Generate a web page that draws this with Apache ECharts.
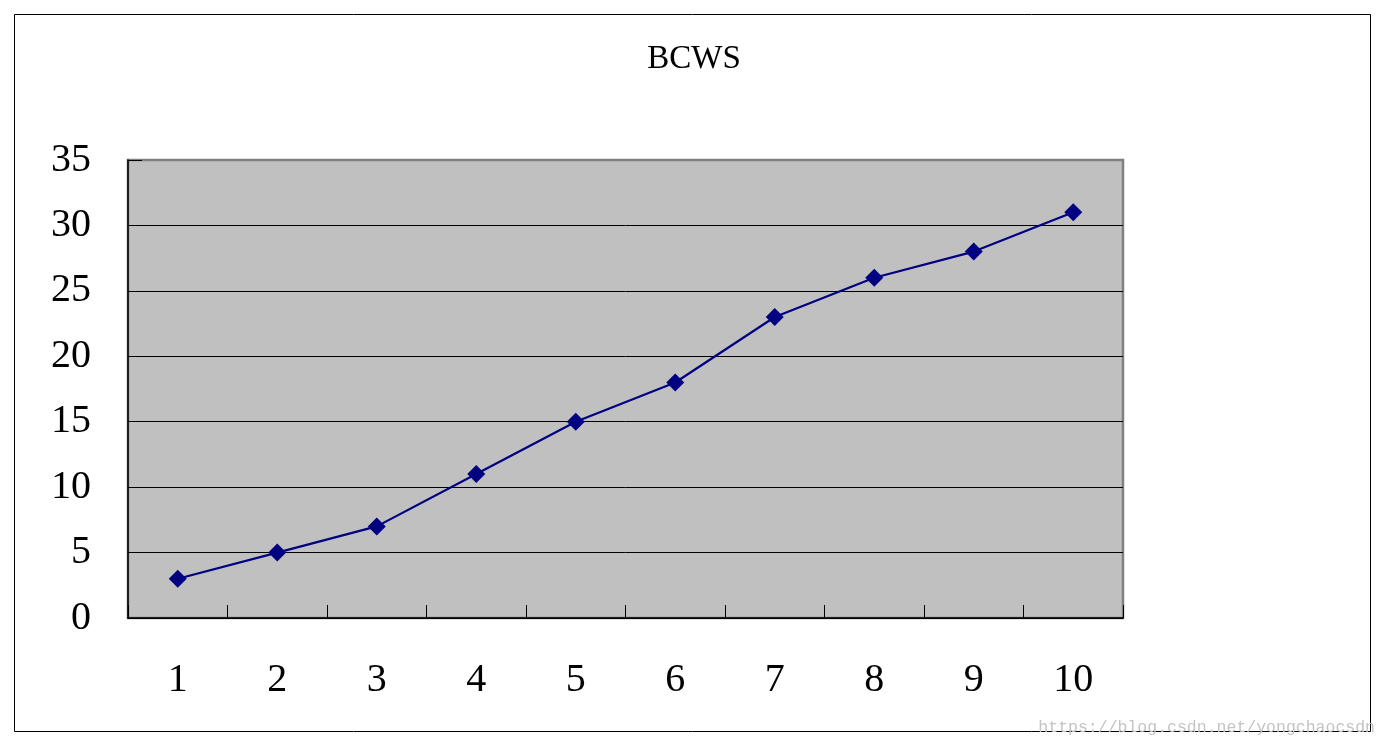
<!DOCTYPE html>
<html>
<head>
<meta charset="utf-8">
<script src="https://cdn.jsdelivr.net/npm/echarts@6/dist/echarts.min.js"></script>
<style>html,body{margin:0;padding:0;background:#fff;}#c{width:1388px;height:746px;}</style>
</head>
<body>
<div id="c"></div>
<script>
var categories = ['1','2','3','4','5','6','7','8','9','10'];
var bcws = [3, 5, 7, 11, 15, 18, 23, 26, 28, 31];
var yTicks = [0, 5, 10, 15, 20, 25, 30, 35];

var chart = echarts.init(document.getElementById('c'));
var serif = '"Liberation Serif", "DejaVu Serif", serif';
chart.setOption({
  backgroundColor: '#ffffff',
  animation: false,
  title: {
    text: 'BCWS',
    left: 'center',
    top: 38,
    textStyle: { fontFamily: serif, fontSize: 33, fontWeight: 'normal', color: '#000' }
  },
  graphic: [
    { type: 'rect', shape: { x: 14.5, y: 14.5, width: 1356, height: 717 }, style: { fill: 'none', stroke: '#000', lineWidth: 1 }, z: 100 },
    { type: 'text', right: 13, bottom: 10, style: { text: 'https://blog.csdn.net/yongchaocsdn', font: '16.5px "Liberation Mono", monospace', fill: '#c4c4c4' }, z: 101 }
  ],
  grid: {
    left: 128, right: 265, top: 160, bottom: 128,
    show: true, backgroundColor: '#c0c0c0', borderColor: '#808080', borderWidth: 2.5
  },
  xAxis: {
    type: 'category',
    data: categories,
    boundaryGap: true,
    axisLine: { lineStyle: { color: '#000', width: 1.5 } },
    axisTick: { show: true, inside: true, length: 13, alignWithLabel: false, lineStyle: { color: '#000', width: 1 } },
    axisLabel: { margin: 42, fontFamily: serif, fontSize: 40, color: '#000' },
    splitLine: { show: false }
  },
  yAxis: {
    type: 'value',
    min: 0, max: 35, interval: 5,
    axisLine: { show: true, lineStyle: { color: '#000', width: 1.5 } },
    axisTick: { show: true, inside: true, length: 14, lineStyle: { color: '#000', width: 1 } },
    axisLabel: { margin: 37, fontFamily: serif, fontSize: 40, color: '#000',
      formatter: function (v) { return yTicks.indexOf(v) >= 0 ? String(v) : ''; } },
    splitLine: { show: true, lineStyle: { color: ['#000','#000','#000','#000','#000','#000','#000','#808080'], width: 1 } }
  },
  series: [{
    name: 'BCWS',
    type: 'line',
    data: bcws,
    symbol: 'diamond',
    symbolSize: 18,
    showAllSymbol: true,
    itemStyle: { color: '#000080' },
    lineStyle: { color: '#000080', width: 2.2 }
  }]
});
</script>
</body>
</html>
